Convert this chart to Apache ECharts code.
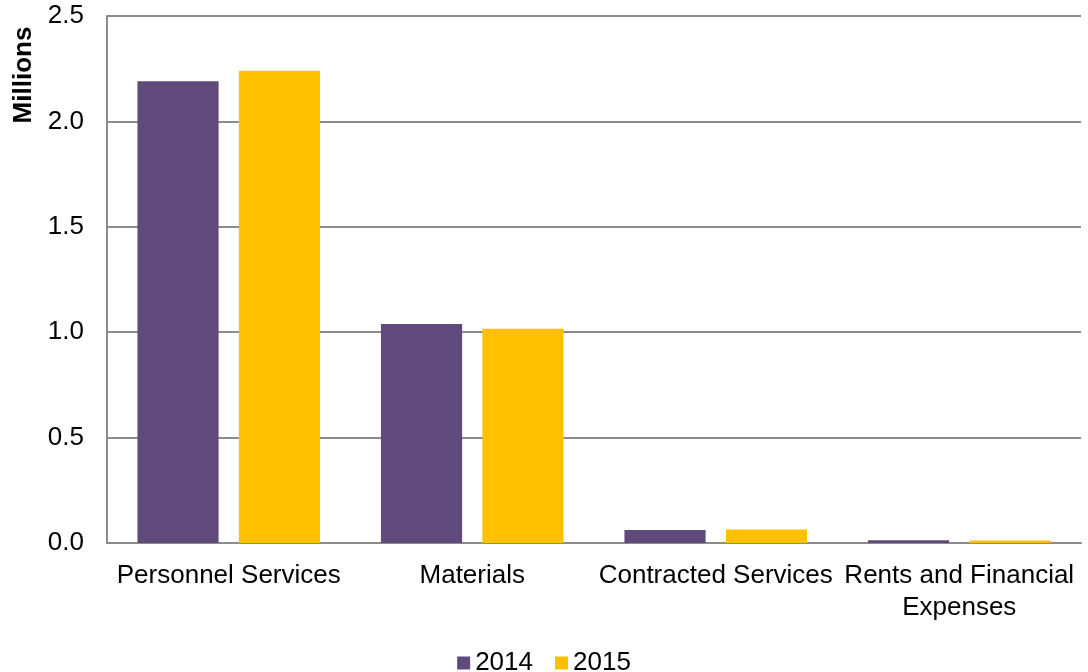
<!DOCTYPE html>
<html>
<head>
<meta charset="utf-8">
<script src="https://cdn.jsdelivr.net/npm/echarts@6/dist/echarts.min.js"></script>
<style>
  html, body { margin: 0; padding: 0; background: #fff; }
  #chart { width: 1088px; height: 672px; }
</style>
</head>
<body>
<div id="chart"></div>
<script>
// Expense categories and yearly totals (millions)
const categories = ['Personnel Services', 'Materials', 'Contracted Services', 'Rents and Financial\nExpenses'];
const values2014 = [2.19, 1.039, 0.062, 0.013];
const values2015 = [2.24, 1.016, 0.064, 0.012];
const yTicks = { min: 0, max: 2.5, interval: 0.5 };

const FONT = '"Liberation Sans", Arial, sans-serif';
const chart = echarts.init(document.getElementById('chart'), null, { renderer: 'canvas' });

chart.setOption({
  animation: false,
  backgroundColor: '#fff',
  grid: { left: 107, right: 7, top: 16, bottom: 129, containLabel: false },
  legend: {
    data: ['2014', '2015'],
    left: 'center',
    top: 645,
    icon: 'rect',
    itemWidth: 13,
    itemHeight: 13,
    itemGap: 22,
    textStyle: { fontFamily: FONT, fontSize: 26, color: '#000' }
  },
  xAxis: {
    type: 'category',
    data: categories,
    axisLine: { show: true, lineStyle: { color: '#8c8c8c', width: 2 } },
    axisTick: { show: false },
    axisLabel: {
      interval: 0,
      margin: 17,
      fontFamily: FONT,
      fontSize: 26,
      color: '#000',
      lineHeight: 32
    }
  },
  yAxis: {
    type: 'value',
    min: yTicks.min,
    max: yTicks.max,
    interval: yTicks.interval,
    axisLine: { show: true, lineStyle: { color: '#8c8c8c', width: 2 } },
    axisTick: { show: false },
    splitLine: { show: true, lineStyle: { color: '#8c8c8c', width: 2 } },
    axisLabel: {
      margin: 23,
      fontFamily: FONT,
      fontSize: 26,
      color: '#000',
      formatter: v => v.toFixed(1)
    }
  },
  graphic: [{
    type: 'text',
    x: 24,
    y: 75,
    rotation: Math.PI / 2,
    style: {
      text: 'Millions',
      font: 'bold 26px ' + FONT,
      fill: '#000',
      textAlign: 'center',
      textVerticalAlign: 'middle'
    }
  }],
  series: [
    {
      name: '2014',
      type: 'bar',
      data: values2014,
      barGap: '25%',
      barCategoryGap: '25%',
      itemStyle: { color: '#604A7B' }
    },
    {
      name: '2015',
      type: 'bar',
      data: values2015,
      itemStyle: { color: '#FFC000' }
    }
  ]
});
</script>
</body>
</html>
